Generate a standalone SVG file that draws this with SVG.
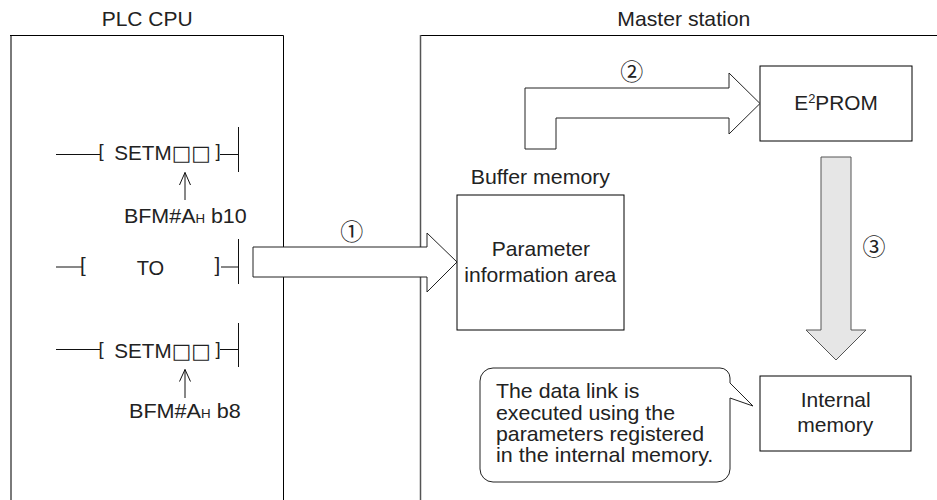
<svg xmlns="http://www.w3.org/2000/svg" width="937" height="500" viewBox="0 0 937 500">
<style>
text{font-family:"Liberation Sans",Arial,"Noto Sans CJK JP",sans-serif;fill:#222;font-size:21px}
.br{font-size:18.5px}
.brl{font-size:20.5px}
.sq{font-family:"DejaVu Sans","Noto Sans CJK JP",sans-serif;font-size:21px}
.frame{fill:none;stroke:#000;stroke-width:1}
.edge{fill:none;stroke:#7a7a7a;stroke-width:2}
.box{fill:#fff;stroke:#000;stroke-width:1}
.arrow{fill:#fff;stroke:#222;stroke-width:1}
.arrow-g{fill:#e6e6e6;stroke:#555;stroke-width:1}
.ladder{fill:none;stroke:#111;stroke-width:1}
.num{font-family:"Noto Sans CJK JP","DejaVu Sans",sans-serif;font-size:23px;text-anchor:middle}
.small{font-size:13px}
</style>

<g id="plc-cpu">
  <path class="edge" d="M11,500 V35.5"/>
  <path class="frame" d="M10,35.5 H283.5 V500"/>
  <text x="101.7" y="26" textLength="91" lengthAdjust="spacingAndGlyphs">PLC CPU</text>

  <g id="rung-setm-b10">
    <path class="ladder" d="M56,154.5 H100 M220,154.5 H238 M238.5,127 V172"/>
    <text class="br" x="98.5" y="157">[</text>
    <text x="114.3" y="160" textLength="96.4" lengthAdjust="spacingAndGlyphs">SETM<tspan class="sq">□□</tspan></text>
    <text class="br" x="215.5" y="157">]</text>
    <path class="ladder" d="M185,200 V172.5 M179.5,185 L185,172.5 L190.5,185"/>
    <text x="124" y="222.5" textLength="122.7" lengthAdjust="spacingAndGlyphs">BFM#A<tspan class="small">H</tspan> b10</text>
  </g>

  <g id="rung-to">
    <path class="ladder" d="M56,267 H83 M221,267 H238 M238.5,239 V284"/>
    <text class="brl" x="80" y="272.4">[</text>
    <text x="136.7" y="275" textLength="27.6" lengthAdjust="spacingAndGlyphs">TO</text>
    <text class="brl" x="214.5" y="272.4">]</text>
  </g>

  <g id="rung-setm-b8">
    <path class="ladder" d="M56,349.5 H100 M220,349.5 H238 M238.5,323 V367"/>
    <text class="br" x="98.5" y="354.5">[</text>
    <text x="114.3" y="358.3" textLength="96.4" lengthAdjust="spacingAndGlyphs">SETM<tspan class="sq">□□</tspan></text>
    <text class="br" x="215.5" y="354.5">]</text>
    <path class="ladder" d="M185,398 V369.5 M179.5,381.5 L185,369.5 L190.5,381.5"/>
    <text x="129" y="418.3" textLength="111.7" lengthAdjust="spacingAndGlyphs">BFM#A<tspan class="small">H</tspan> b8</text>
  </g>
</g>

<g id="master-station">
  <path class="frame" d="M420,35.5 H937"/>
  <path fill="none" stroke="#555" stroke-width="1.5" d="M420.5,35 V500"/>
  <text x="617.3" y="26" textLength="133" lengthAdjust="spacingAndGlyphs">Master station</text>
</g>

<g id="buffer-memory">
  <text x="470.7" y="184" textLength="139.3" lengthAdjust="spacingAndGlyphs">Buffer memory</text>
  <rect class="box" x="457" y="195" width="167" height="135"/>
  <text x="491.7" y="256" textLength="98.3" lengthAdjust="spacingAndGlyphs">Parameter</text>
  <text x="464.3" y="282" textLength="152" lengthAdjust="spacingAndGlyphs">information area</text>
</g>

<g id="eeprom">
  <rect class="box" x="760" y="66" width="152" height="75"/>
  <text x="794.3" y="110" textLength="83.4" lengthAdjust="spacingAndGlyphs">E<tspan class="small" dy="-7">2</tspan><tspan dy="7">PROM</tspan></text>
</g>

<g id="internal-memory">
  <rect class="box" x="760" y="376" width="151" height="75"/>
  <text x="800.7" y="407.3" textLength="70" lengthAdjust="spacingAndGlyphs">Internal</text>
  <text x="797.3" y="432" textLength="76" lengthAdjust="spacingAndGlyphs">memory</text>
</g>

<g id="callout">
  <path fill="#fff" stroke="#222" stroke-width="1" d="M493,368 H720 A10,10 0 0 1 730,378 V383 L753,406 L730,398 V469 A13,13 0 0 1 717,482 H493 A13,13 0 0 1 480,469 V381 A13,13 0 0 1 493,368 Z"/>
  <text x="496" y="398.3" textLength="143.3" lengthAdjust="spacingAndGlyphs">The data link is</text>
  <text x="496" y="419.6" textLength="179" lengthAdjust="spacingAndGlyphs">executed using the</text>
  <text x="496" y="441" textLength="208" lengthAdjust="spacingAndGlyphs">parameters registered</text>
  <text x="496" y="462.3" textLength="217.3" lengthAdjust="spacingAndGlyphs">in the internal memory.</text>
</g>

<g id="connectors">
  <g id="arrow-1">
    <polygon class="arrow" points="253,247 427,247 427,233 457,262 427,292 427,277 253,277"/>
    <text class="num" x="351.7" y="239.5">①</text>
  </g>
  <g id="arrow-2">
    <polygon class="arrow" points="525,149 525,88 729,88 729,73 760,103.5 729,134 729,118 556,118 556,149"/>
    <text class="num" x="631.7" y="80">②</text>
  </g>
  <g id="arrow-3">
    <polygon class="arrow-g" points="821,157 851,157 851,330 866,330 836,360 806,330 821,330"/>
    <text class="num" x="874" y="254.5">③</text>
  </g>
</g>
</svg>
